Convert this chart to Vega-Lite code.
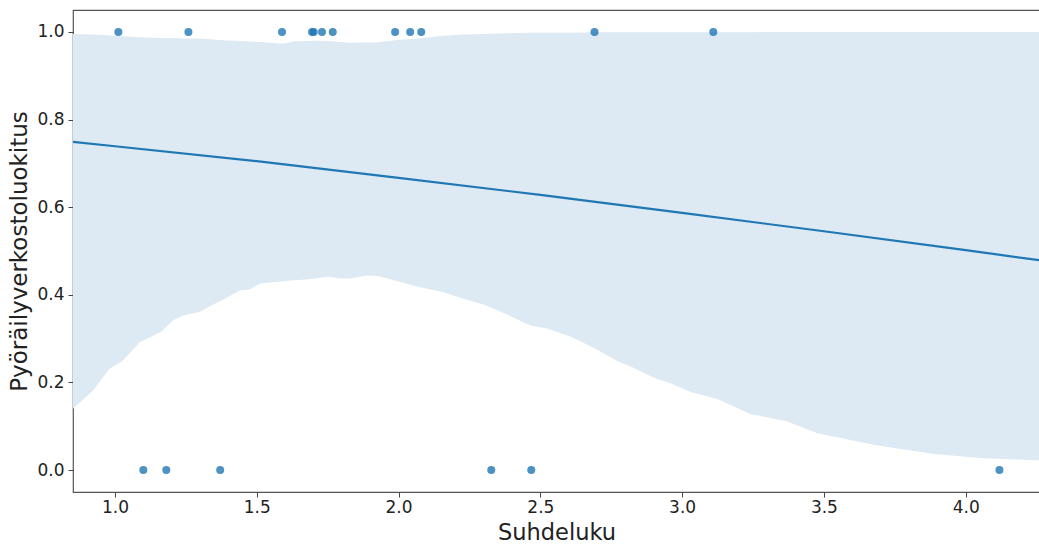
{
  "$schema": "https://vega.github.io/schema/vega-lite/v6.json",
  "autosize": "none",
  "width": 967,
  "height": 482,
  "padding": {"left": 73, "top": 10, "right": 0, "bottom": 53},
  "background": "white",
  "config": {
    "view": {"stroke": "#555", "strokeWidth": 1.2},
    "font": "DejaVu Sans",
    "axis": {
      "grid": false,
      "domain": false,
      "tickColor": "#444",
      "tickSize": 5,
      "labelFont": "DejaVu Sans",
      "labelFontSize": 17,
      "labelColor": "#222",
      "titleFont": "DejaVu Sans",
      "titleFontWeight": "normal",
      "titleColor": "#222"
    }
  },
  "datasets": {
    "pts": [
      {"x": 1.012, "y": 1}, {"x": 1.259, "y": 1}, {"x": 1.589, "y": 1},
      {"x": 1.695, "y": 1}, {"x": 1.701, "y": 1}, {"x": 1.730, "y": 1},
      {"x": 1.768, "y": 1}, {"x": 1.988, "y": 1}, {"x": 2.041, "y": 1},
      {"x": 2.080, "y": 1}, {"x": 2.691, "y": 1}, {"x": 3.110, "y": 1},
      {"x": 1.100, "y": 0}, {"x": 1.181, "y": 0}, {"x": 1.371, "y": 0},
      {"x": 2.327, "y": 0}, {"x": 2.468, "y": 0}, {"x": 4.119, "y": 0}
    ],
    "fit": [
      {"x": 0.852, "p": 0.749}, {"x": 1.0, "p": 0.739}, {"x": 1.5, "p": 0.705},
      {"x": 2.0, "p": 0.667}, {"x": 2.5, "p": 0.628}, {"x": 3.0, "p": 0.587},
      {"x": 3.5, "p": 0.545}, {"x": 4.0, "p": 0.502}, {"x": 4.27, "p": 0.478}
    ],
    "ci": [
      {"x": 0.852, "lo": 0.140, "hi": 0.995},
      {"x": 0.922, "lo": 0.181, "hi": 0.994},
      {"x": 0.981, "lo": 0.231, "hi": 0.992},
      {"x": 1.028, "lo": 0.250, "hi": 0.990},
      {"x": 1.087, "lo": 0.292, "hi": 0.988},
      {"x": 1.163, "lo": 0.316, "hi": 0.986},
      {"x": 1.205, "lo": 0.342, "hi": 0.986},
      {"x": 1.240, "lo": 0.353, "hi": 0.985},
      {"x": 1.299, "lo": 0.361, "hi": 0.985},
      {"x": 1.334, "lo": 0.374, "hi": 0.983},
      {"x": 1.381, "lo": 0.389, "hi": 0.981},
      {"x": 1.440, "lo": 0.410, "hi": 0.979},
      {"x": 1.475, "lo": 0.412, "hi": 0.978},
      {"x": 1.511, "lo": 0.426, "hi": 0.977},
      {"x": 1.593, "lo": 0.431, "hi": 0.973},
      {"x": 1.628, "lo": 0.433, "hi": 0.978},
      {"x": 1.675, "lo": 0.435, "hi": 0.979},
      {"x": 1.712, "lo": 0.438, "hi": 0.980},
      {"x": 1.752, "lo": 0.442, "hi": 0.979},
      {"x": 1.793, "lo": 0.437, "hi": 0.977},
      {"x": 1.829, "lo": 0.437, "hi": 0.975},
      {"x": 1.887, "lo": 0.444, "hi": 0.976},
      {"x": 1.923, "lo": 0.443, "hi": 0.976},
      {"x": 1.935, "lo": 0.442, "hi": 0.977},
      {"x": 2.006, "lo": 0.429, "hi": 0.982},
      {"x": 2.065, "lo": 0.419, "hi": 0.985},
      {"x": 2.159, "lo": 0.406, "hi": 0.991},
      {"x": 2.229, "lo": 0.391, "hi": 0.994},
      {"x": 2.300, "lo": 0.378, "hi": 0.995},
      {"x": 2.383, "lo": 0.355, "hi": 0.997},
      {"x": 2.465, "lo": 0.330, "hi": 0.998},
      {"x": 2.524, "lo": 0.323, "hi": 0.998},
      {"x": 2.606, "lo": 0.305, "hi": 0.998},
      {"x": 2.688, "lo": 0.279, "hi": 0.999},
      {"x": 2.771, "lo": 0.249, "hi": 0.999},
      {"x": 2.830, "lo": 0.233, "hi": 0.999},
      {"x": 2.900, "lo": 0.211, "hi": 0.999},
      {"x": 2.959, "lo": 0.198, "hi": 0.999},
      {"x": 3.030, "lo": 0.178, "hi": 0.999},
      {"x": 3.100, "lo": 0.166, "hi": 0.9995},
      {"x": 3.124, "lo": 0.162, "hi": 0.9995},
      {"x": 3.241, "lo": 0.128, "hi": 0.9995},
      {"x": 3.371, "lo": 0.111, "hi": 0.9996},
      {"x": 3.477, "lo": 0.084, "hi": 0.9997},
      {"x": 3.689, "lo": 0.056, "hi": 0.9998},
      {"x": 3.888, "lo": 0.037, "hi": 0.9998},
      {"x": 4.065, "lo": 0.027, "hi": 0.9999},
      {"x": 4.270, "lo": 0.022, "hi": 0.9999}
    ]
  },
  "encoding": {
    "x": {
      "field": "x", "type": "quantitative",
      "scale": {"domain": [0.852, 4.262], "nice": false, "zero": false},
      "axis": {"values": [1, 1.5, 2, 2.5, 3, 3.5, 4], "format": ".1f", "title": "Suhdeluku", "titleFontSize": 22.5, "labelPadding": 2, "titlePadding": 6}
    }
  },
  "layer": [
    {
      "data": {"name": "ci"},
      "mark": {"type": "area", "color": "#dde9f3", "opacity": 1, "clip": true},
      "encoding": {
        "y": {
          "field": "lo", "type": "quantitative",
          "scale": {"domain": [-0.05, 1.05], "nice": false, "zero": false},
          "axis": {"values": [0, 0.2, 0.4, 0.6, 0.8, 1.0], "format": ".1f", "title": "Pyöräilyverkostoluokitus", "titleFontSize": 23, "labelPadding": 4, "titlePadding": 5}
        },
        "y2": {"field": "hi"}
      }
    },
    {
      "data": {"name": "pts"},
      "mark": {"type": "circle", "color": "#1f77b4", "opacity": 0.8, "size": 64},
      "encoding": {
        "y": {"field": "y", "type": "quantitative"}
      }
    },
    {
      "data": {"name": "fit"},
      "mark": {"type": "line", "color": "#1f77b4", "strokeWidth": 2.2, "clip": true},
      "encoding": {
        "y": {"field": "p", "type": "quantitative"}
      }
    }
  ]
}
